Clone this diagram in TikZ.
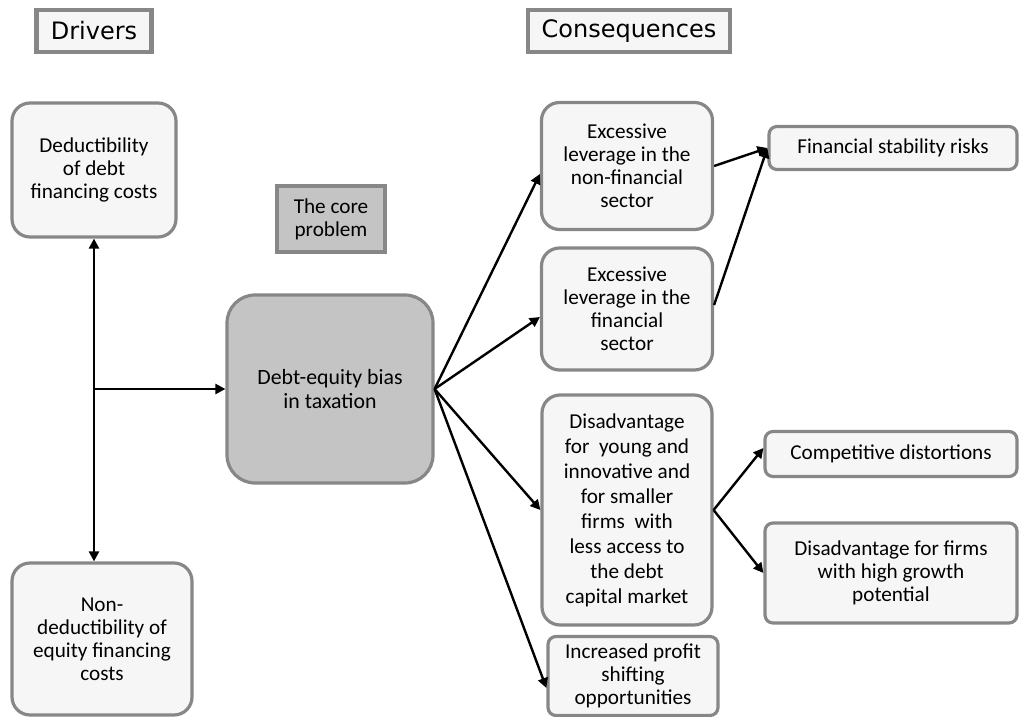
\documentclass[tikz,border=0pt]{standalone}
\usepackage{fontspec}
\setmainfont{Carlito}
\newfontfamily\headfont{DejaVu Sans}
\usetikzlibrary{arrows.meta, positioning}
\definecolor{boxfill}{RGB}{246,246,246}
\definecolor{corefill}{RGB}{196,196,196}
\definecolor{rimcolor}{RGB}{135,135,135}

\begin{document}
\begin{tikzpicture}[
    x=0.5pt, y=-0.5pt,
    head/.style={draw=rimcolor, line width=2.2pt, fill=boxfill, minimum height=21pt, font=\headfont\fontsize{12}{14}\selectfont},
    cell/.style={draw=rimcolor, line width=1.6pt, fill=boxfill, rounded corners=9pt, align=center, inner sep=2pt, font=\fontsize{10.6}{11.5}\selectfont},
    flat/.style={cell, rounded corners=4pt},
    arrow/.style={-{Triangle[length=5pt, width=5pt]}, line width=1.2pt}
]
    \useasboundingbox (0,0) rectangle (1019,717);

    % Headings
    \node[head, minimum width=57.5pt] (drivers) at (94,31) {Drivers};
    \node[head, minimum width=101pt] (conseq) at (629,31) {Consequences};
    \node[head, fill=corefill, minimum width=54pt, minimum height=33pt, font=\fontsize{10.6}{11.5}\selectfont, align=center] (core) at (331,219) {The core\\problem};

    % Drivers
    \node[cell, minimum width=82pt, minimum height=67pt] (deduct) at (94,170) {Deductibility\\of debt\\financing costs};
    \node[cell, minimum width=90pt, minimum height=76pt] (nondeduct) at (102,639) {Non-\\deductibility of\\equity financing\\costs};

    % Core problem
    \node[cell, fill=corefill, rounded corners=14pt, minimum width=103pt, minimum height=94pt, font=\fontsize{10.9}{12}\selectfont] (bias) at (330,389) {Debt-equity bias\\in taxation};

    % Consequences
    \node[cell, minimum width=85.5pt, minimum height=63.5pt] (nonfin) at (627,166) {Excessive\\leverage in the\\non-financial\\sector};
    \node[cell, minimum width=85.5pt, minimum height=61pt] (fin) at (627,309) {Excessive\\leverage in the\\financial\\sector};
    \node[cell, minimum width=85pt, minimum height=115pt, font=\fontsize{10.6}{12.5}\selectfont] (young) at (627,510) {Disadvantage\\for\ \ young and\\innovative and\\for smaller\\firms\ \ with\\less access to\\the debt\\capital market};
    \node[flat, minimum width=85pt, minimum height=39.5pt] (profit) at (633,676) {Increased profit\\shifting\\opportunities};

    % Further consequences
    \node[flat, minimum width=124pt, minimum height=21.5pt] (risks) at (893,148) {Financial stability risks};
    \node[flat, minimum width=126pt, minimum height=22.5pt] (compet) at (891,454) {Competitive distortions};
    \node[flat, minimum width=126pt, minimum height=50pt] (growth) at (891,573) {Disadvantage for firms\\with high growth\\potential};

    % Connectors
    \draw[arrow, {Triangle[length=5pt, width=5pt]}-{Triangle[length=5pt, width=5pt]}] (deduct.south) -- (deduct.south |- nondeduct.north);
    \draw[arrow] (deduct.south |- bias.west) -- (bias.west);
    \draw[arrow] (bias.east) -- ([yshift=-4pt]nonfin.west);
    \draw[arrow] (bias.east) -- ([yshift=-4pt]fin.west);
    \draw[arrow] (bias.east) -- (young.west);
    \draw[arrow] (bias.east) -- ([yshift=-6pt]profit.west);
    \draw[arrow] (nonfin.east) -- (risks.west);
    \draw[arrow] ([yshift=2pt]fin.east) -- (risks.west);
    \draw[arrow] (young.east) -- ([yshift=3pt]compet.west);
    \draw[arrow] (young.east) -- (growth.west);
\end{tikzpicture}
\end{document}
